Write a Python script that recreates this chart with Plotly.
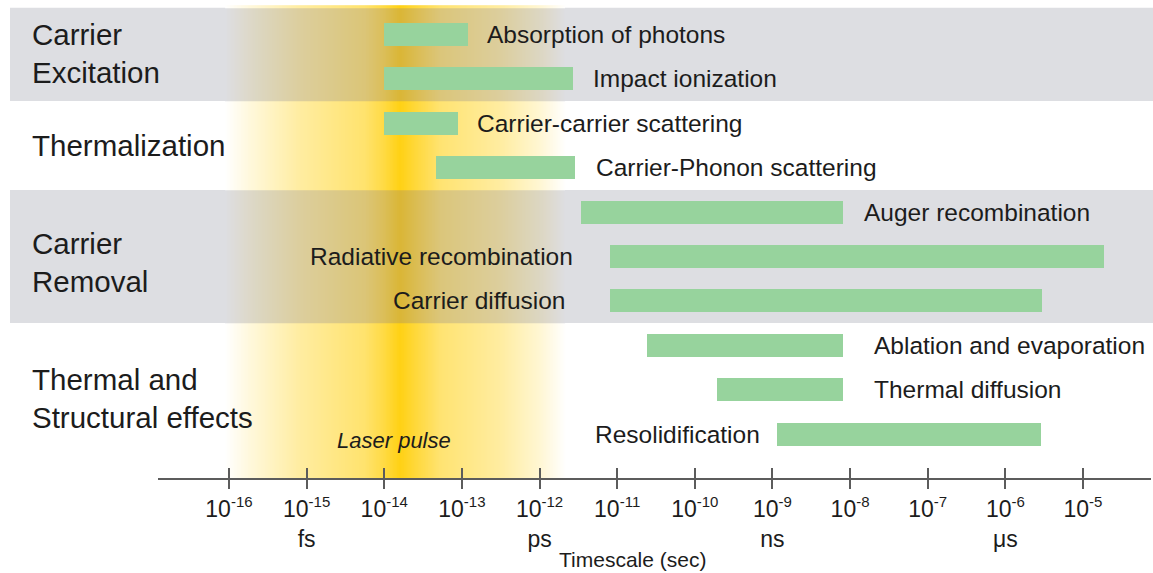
import numpy as np
import plotly.graph_objects as go

# ---- data -------------------------------------------------------------
processes = [
    "Absorption of photons",
    "Impact ionization",
    "Carrier-carrier scattering",
    "Carrier-Phonon scattering",
    "Auger recombination",
    "Radiative recombination",
    "Carrier diffusion",
    "Ablation and evaporation",
    "Thermal diffusion",
    "Resolidification",
]
# time windows in seconds
t_start = [1.0e-14, 1.0e-14, 1.0e-14, 4.7e-14, 3.4e-12, 8.1e-12, 8.1e-12, 2.4e-11, 1.95e-10, 1.15e-9]
t_end = [1.2e-13, 2.7e-12, 8.9e-14, 2.9e-12, 8.1e-9, 1.86e-5, 2.95e-6, 8.1e-9, 8.1e-9, 2.9e-6]

groups = ["Carrier<br>Excitation", "Thermalization", "Carrier<br>Removal", "Thermal and<br>Structural effects"]
group_rows = [(0, 1), (2, 3), (4, 6), (7, 9)]
group_shaded = [True, False, True, False]

tick_exponents = [-16, -15, -14, -13, -12, -11, -10, -9, -8, -7, -6, -5]
tick_units = {-15: "fs", -12: "ps", -9: "ns", -6: "μs"}

# laser pulse intensity profile (log10 time, relative intensity)
pulse_logt = [-16.05, -15.73, -15.09, -14.25, -14.0, -13.8, -13.55, -13.28, -12.51, -11.99, -11.67]
pulse_level = [0.0, 0.15, 0.40, 0.62, 0.80, 1.0, 0.80, 0.60, 0.40, 0.18, 0.0]

# ---- style ------------------------------------------------------------
FONT = "Liberation Sans, Arial, Helvetica, sans-serif"
TEXT = "#1c1c1c"
GREEN = "#97d39d"
GRAY = "rgb(221,222,226)"
PEAK_ON_WHITE = "rgb(255,209,20)"
PEAK_ON_GRAY = "rgb(218,182,54)"
AXIS = "#5c5c5c"

label_side = ["right", "right", "right", "right", "right", "left", "left", "right", "right", "left"]
label_gap = [17, 18, 17, 19, 19, 35, 43, 29, 29, 15]
group_yshift = [3, 0, -6, -9]

W, H = 1153, 573
ML, MR, MT, MB = 158, 2, 0, 95
PW, PH = W - ML - MR, H - MT - MB
X_RANGE = [-16.914, -4.124]
Y_RANGE = [9.989, -0.777]
BAR_W = 0.52
PULSE_TOP = -0.66

fig = go.Figure()

# shaded group bands (row spans)
band_spans = []
for k, ((r0, r1), shaded) in enumerate(zip(group_rows, group_shaded)):
    if shaded:
        band_spans.append((r0 - (0.6 if k == 0 else 0.5), r1 + 0.5))

shapes = [
    dict(type="rect", xref="paper", yref="y",
         x0=-(ML - 10) / PW, x1=1.01, y0=top, y1=bot,
         fillcolor=GRAY, line=dict(width=0), layer="below")
    for top, bot in band_spans
]

# laser pulse glow: one heatmap, tinted differently over the shaded bands
step = 0.01
edges = np.arange(pulse_logt[0], pulse_logt[-1] + 1e-9, step)
mids = (edges[:-1] + edges[1:]) / 2
level = np.interp(mids, pulse_logt, pulse_level)
y_edges = [PULSE_TOP]
on_gray = []
for top, bot in band_spans:
    if top > y_edges[-1]:
        y_edges.append(top)
        on_gray.append(False)
    y_edges.append(bot)
    on_gray.append(True)
y_edges.append(Y_RANGE[0])
on_gray.append(False)
z = [list(0.51 + 0.49 * level) if g else list(0.49 * level) for g in on_gray]

fig.add_trace(go.Heatmap(
    x=10.0 ** edges, y=y_edges, z=z, zmin=0, zmax=1, zsmooth=False,
    colorscale=[[0.0, "rgb(255,255,255)"], [0.49, PEAK_ON_WHITE],
                [0.51, GRAY], [1.0, PEAK_ON_GRAY]],
    showscale=False, hoverinfo="skip",
))

rows = list(range(len(processes)))
fig.add_trace(go.Bar(
    orientation="h",
    y=rows,
    base=t_start,
    x=[e - s for s, e in zip(t_start, t_end)],
    width=BAR_W,
    marker=dict(color=GREEN, line=dict(width=0)),
    hoverinfo="skip",
    showlegend=False,
))
# carrier for the upward tick marks
fig.add_trace(go.Scatter(x=[1e-16], y=[0], xaxis="x2", mode="markers",
                         marker=dict(opacity=0), hoverinfo="skip", showlegend=False))

annotations = []
for i, name in enumerate(processes):
    right = label_side[i] == "right"
    annotations.append(dict(
        x=np.log10(t_end[i] if right else t_start[i]), y=i, xref="x", yref="y",
        text=name, showarrow=False,
        xanchor="left" if right else "right",
        xshift=label_gap[i] if right else -label_gap[i],
        font=dict(family=FONT, size=24.5, color=TEXT),
    ))

for k, (g, (r0, r1)) in enumerate(zip(groups, group_rows)):
    annotations.append(dict(
        x=-(ML - 30) / PW, y=(r0 + r1) / 2, xref="paper", yref="y",
        text=g, showarrow=False, xanchor="left", align="left",
        yshift=group_yshift[k],
        font=dict(family=FONT, size=29.5, color=TEXT),
    ))

annotations.append(dict(
    x=-13.88, y=9.155, xref="x", yref="y", text="<i>Laser pulse</i>",
    showarrow=False, font=dict(family=FONT, size=22, color=TEXT),
))

annotations.append(dict(
    x=(632 - ML) / PW, y=-(559 - PH) / PH, xref="paper", yref="paper",
    text="Timescale (sec)", showarrow=False, xanchor="center", yanchor="middle",
    font=dict(family=FONT, size=21, color=TEXT),
))

tickvals = [10.0 ** e for e in tick_exponents]
ticktext = []
for e in tick_exponents:
    s = "10<sup><span style='font-size:15px'>%d</span></sup>" % e
    if e in tick_units:
        s += "<br>" + tick_units[e]
    ticktext.append(s)

fig.update_layout(
    width=W, height=H,
    margin=dict(l=ML, r=MR, t=MT, b=MB),
    paper_bgcolor="white", plot_bgcolor="rgba(0,0,0,0)",
    shapes=shapes, annotations=annotations,
    bargap=0,
    xaxis=dict(
        type="log", range=X_RANGE, showgrid=False, zeroline=False,
        showline=True, linecolor=AXIS, linewidth=2,
        ticks="outside", ticklen=9, tickwidth=1.5, tickcolor=AXIS,
        tickvals=tickvals, ticktext=ticktext,
        tickfont=dict(family=FONT, size=23, color=TEXT),
        fixedrange=True,
    ),
    xaxis2=dict(
        type="log", overlaying="x", matches="x", anchor="y", side="bottom",
        range=X_RANGE, showgrid=False, zeroline=False, showline=False,
        ticks="inside", ticklen=10, tickwidth=1.5, tickcolor=AXIS,
        tickvals=tickvals, showticklabels=False,
    ),
    yaxis=dict(range=Y_RANGE, visible=False, fixedrange=True),
)

fig.write_html("out.html")
